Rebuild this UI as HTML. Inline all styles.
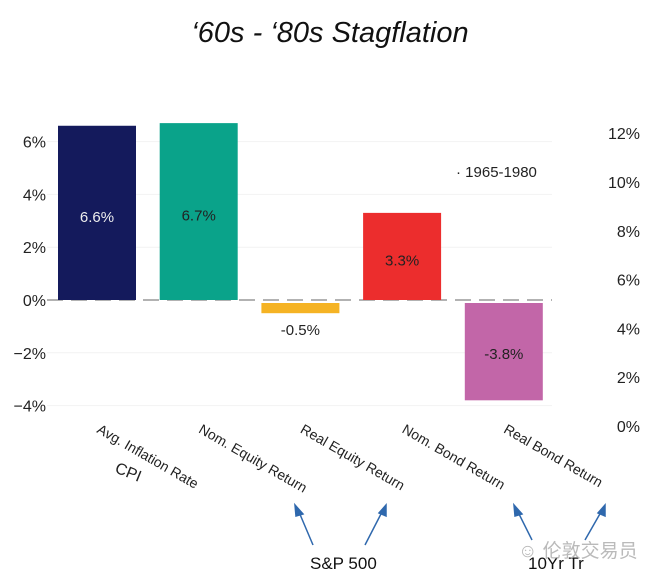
<!DOCTYPE html>
<html><head><meta charset="utf-8"><style>
body{margin:0;background:#fff;width:648px;height:582px;overflow:hidden;font-family:"Liberation Sans","Noto Sans CJK SC",sans-serif}
</style></head><body>
<svg id="c" width="648" height="582">
<text x="330" y="42" text-anchor="middle" font-size="29" font-style="italic" fill="#111">‘60s - ‘80s Stagflation</text>
<g id="grid"></g><g id="bars"></g><g id="ax"></g>
<text x="456" y="177" font-size="15" fill="#222">· 1965-1980</text>
<g stroke="#2f68ad" stroke-width="1.5" fill="#2f68ad">
<line x1="313" y1="545" x2="299" y2="512"/><polygon points="295,505 303,514 296,516"/>
<line x1="365" y1="545" x2="382" y2="512"/><polygon points="386,505 386,516 379,513"/>
<line x1="532" y1="540" x2="518" y2="512"/><polygon points="514,505 522,514 515,516"/>
<line x1="585" y1="540" x2="601" y2="512"/><polygon points="605,505 605,516 598,513"/>
</g>
<text x="310" y="569" font-size="17" fill="#111">S&amp;P 500</text>
<text x="528" y="569" font-size="17" fill="#111">10Yr Tr</text>
<text x="518" y="557" font-size="19" fill="#aaa" opacity="0.8">☺ 伦敦交易员</text>
</svg>
<script>
const categories=["Avg. Inflation Rate","Nom. Equity Return","Real Equity Return","Nom. Bond Return","Real Bond Return"];
const values=[6.6,6.7,-0.5,3.3,-3.8];
const colors=["#141a5c","#0aa38a","#f5b324","#ec2d2d","#c266a8"];
const labelColors=["#eee","#222","#222","#222","#222"];
const leftTicks=[6,4,2,0,-2,-4];
const rightTicks=[12,10,8,6,4,2,0];
const NS="http://www.w3.org/2000/svg";
const y=v=>300-v*26.4;
const yr=v=>426-v*24.4;
const x0=58,pitch=101.7,bw=78;
const xb=i=>x0+i*pitch;
function mk(t,a,p){const e=document.createElementNS(NS,t);for(const k in a)e.setAttribute(k,a[k]);p.appendChild(e);return e;}
const grid=document.getElementById('grid'),bars=document.getElementById('bars'),ax=document.getElementById('ax');
leftTicks.forEach(t=>{
 if(t!==0){const l=mk('line',{x1:47,x2:552,y1:y(t),y2:y(t),stroke:'#f2f2f2'},grid);
 
 }
 const tx=mk('text',{x:46,y:y(t)+6,'text-anchor':'end','font-size':16,fill:'#222'},ax);
 tx.textContent=(t<0?'−':'')+Math.abs(t)+'%';
 
 
});
rightTicks.forEach(t=>{
 const tx=mk('text',{x:640,y:yr(t)+6,'text-anchor':'end','font-size':16,fill:'#222'},ax);
 tx.textContent=t+'%';
 
 
});
const z=mk('line',{x1:47,x2:552,y1:300,y2:300,stroke:'#999','stroke-width':1.5,'stroke-dasharray':'16 8'},grid);


values.forEach((v,i)=>{
 const top=Math.min(y(v),y(0)),h=Math.abs(y(v)-y(0));
 const r=mk('rect',{x:xb(i),y:v<0?top+3:top,width:bw,height:v<0?h-3:h,fill:colors[i]},bars);
 
 
 const ly=(v<0&&h<30)?y(v)+22:(y(v)+y(0))/2+9;
 const t=mk('text',{x:xb(i)+bw/2,y:ly,'text-anchor':'middle','font-size':15,fill:labelColors[i]},bars);
 t.textContent=v.toFixed(1)+'%';
 
 
 const c=mk('text',{transform:`translate(${xb(i)+38},${432}) rotate(30)`,'font-size':14,fill:'#222'},ax);
 c.textContent=categories[i];
 
 
});
const cpi=mk('text',{transform:'translate(114,472) rotate(22)','font-size':16,fill:'#222'},ax);
cpi.textContent='CPI';


</script>
</body></html>
